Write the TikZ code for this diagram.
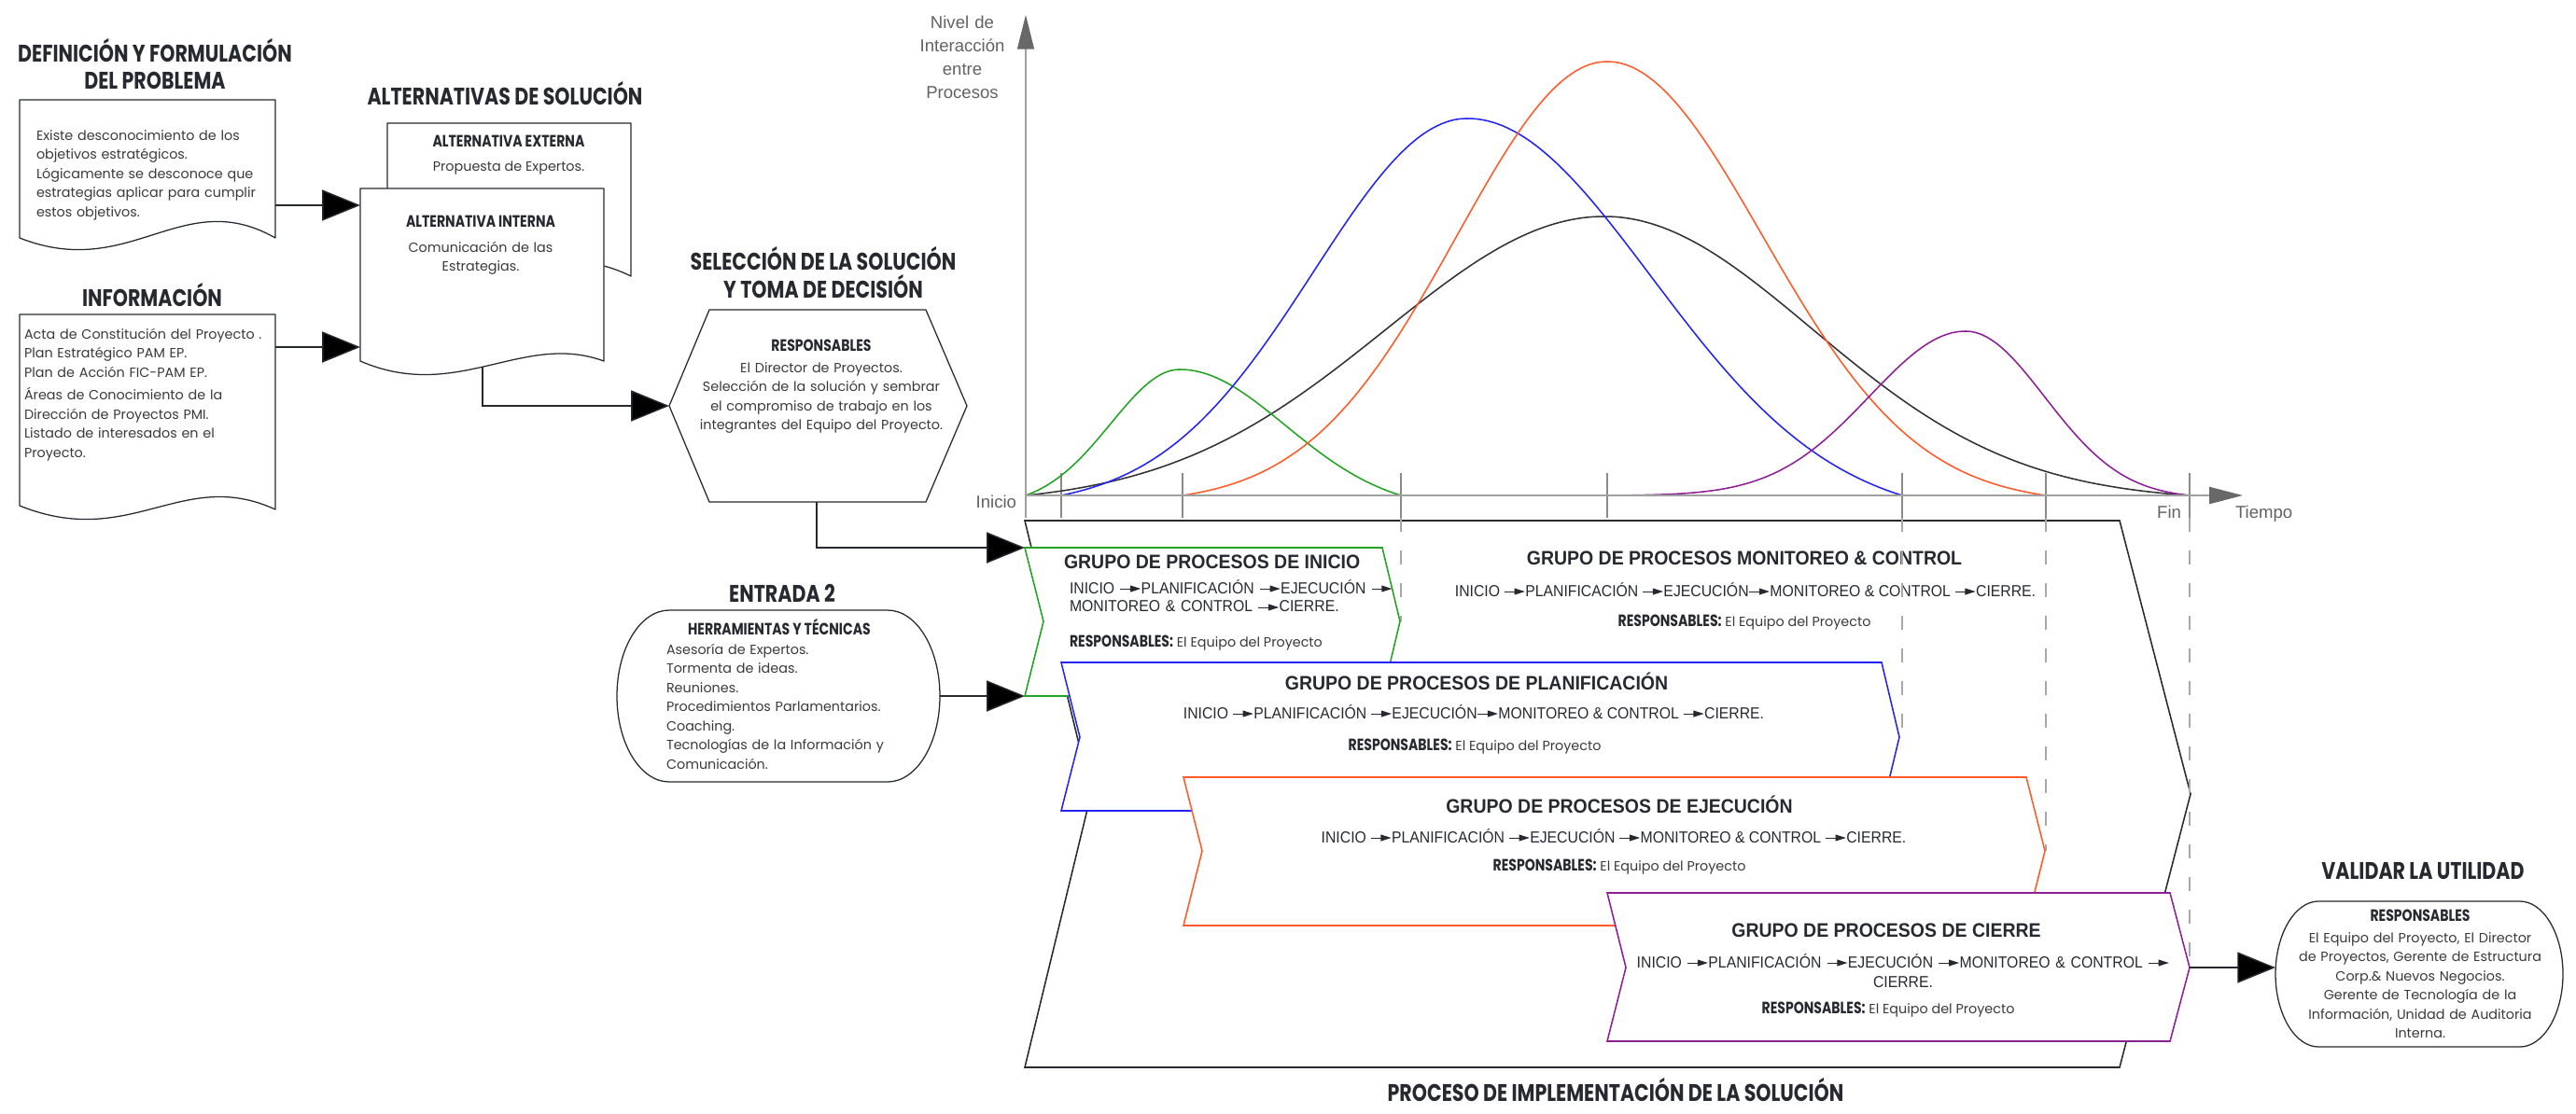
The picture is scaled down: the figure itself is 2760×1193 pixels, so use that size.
\documentclass[tikz,border=0pt]{standalone}
\usepackage{fontspec}
\setmainfont{Poppins}
\newfontfamily\headfont{Poppins}[FakeStretch=0.8]
\newfontfamily\grpfamily{Liberation Sans}[FakeStretch=0.93]
\newfontfamily\seqfamily{Liberation Sans}[FakeStretch=0.92]
\newfontfamily\narrowfont{Liberation Sans}
\usetikzlibrary{arrows.meta}

\definecolor{ink}{HTML}{262A30}
\definecolor{bodytxt}{HTML}{3A3A3A}
\definecolor{axisgrey}{HTML}{A0A0A0}
\definecolor{headgrey}{HTML}{686868}
\definecolor{tickgrey}{HTML}{8A8A8A}
\definecolor{dashgrey}{HTML}{A8A8A8}
\definecolor{labgrey}{HTML}{626262}
\definecolor{cgreen}{HTML}{22A322}
\definecolor{cblue}{HTML}{2323F5}
\definecolor{corange}{HTML}{FF5A28}
\definecolor{cpurple}{HTML}{8E1F96}
\definecolor{cblack}{HTML}{333333}

% small arrow used inside the process sequences
\newcommand\flecha{\tikz[baseline=-0.55ex]\draw[line width=0.7pt,-{Triangle[length=0.65em,width=0.4em]}](0,0)--(1.27em,0);}
\newcommand\titfont{\headfont\bfseries\fontsize{18.3}{20.3}\selectfont}
\newcommand\labfont{\headfont\bfseries\fontsize{12.5}{14}\selectfont}
\newcommand\txtfont{\fontsize{10.2}{14.6}\selectfont}
\newcommand\grpfont{\grpfamily\bfseries\fontsize{14.9}{16}\selectfont}
\newcommand\seqfont{\seqfamily\fontsize{12.2}{15}\selectfont}
\newcommand\axfont{\narrowfont\fontsize{13.2}{17.8}\selectfont}
\newcommand\resp{{\labfont RESPONSABLES:} {\txtfont\color{bodytxt}El Equipo del Proyecto}}

\begin{document}
\begin{tikzpicture}[x=0.025cm,y=-0.025cm,
  every node/.style={inner sep=0pt, outer sep=0pt},
  sectitle/.style={font=\titfont, text=ink},
  body/.style={font=\txtfont, text=bodytxt},
  lab/.style={font=\labfont, text=ink},
  doc/.style={draw=ink, fill=white, line width=0.9pt, line join=round},
  conn/.style={draw=ink, line width=1pt, -{Triangle[length=29pt,width=23.5pt]}},
  grp/.style={fill=white, line width=1.1pt},
  gtitle/.style={font=\grpfont, text=ink},
  seq/.style={font=\seqfont, text=ink},
  curve/.style={line width=1.1pt},
  axtick/.style={draw=tickgrey, line width=0.8pt},
  guide/.style={draw=dashgrey, line width=0.9pt, dash pattern=on 10.7pt off 14.2pt},
  axl/.style={font=\axfont, text=labgrey},
]
\useasboundingbox (0,0) rectangle (2760,1193);
\fill[white] (0,0) rectangle (2760,1193);

% ---------- section titles ----------
\node[sectitle, anchor=base] (t-def1) at (166,66) {DEFINICIÓN Y FORMULACIÓN};
\node[sectitle, anchor=base] (t-def2) at (166,95) {DEL PROBLEMA};
\node[sectitle, anchor=base] (t-alt) at (541,112) {ALTERNATIVAS DE SOLUCIÓN};
\node[sectitle, anchor=base] (t-inf) at (163,328) {INFORMACIÓN};
\node[sectitle, anchor=base] (t-sel1) at (882,289) {SELECCIÓN DE LA SOLUCIÓN};
\node[sectitle, anchor=base] (t-sel2) at (882,319) {Y TOMA DE DECISIÓN};
\node[sectitle, anchor=base] (t-ent) at (838,645) {ENTRADA 2};
\node[sectitle, anchor=base] (t-val) at (2596,942) {VALIDAR LA UTILIDAD};
\node[sectitle, anchor=base] (t-imp) at (1731,1180) {PROCESO DE IMPLEMENTACIÓN DE LA SOLUCIÓN};

% ---------- documents ----------
\draw[doc] (21,107) -- (295,107) -- (295,255) .. controls (195,198) and (140,302) .. (21,255) -- cycle;
\node[body, anchor=base west, align=left, text width=7cm] (b1txt) at (39,150)
  {Existe desconocimiento de los\\objetivos estratégicos.\\Lógicamente se desconoce que\\estrategias aplicar para cumplir\\estos objetivos.};
\coordinate (b1out) at (295,220);

\draw[doc] (21,337) -- (295,337) -- (295,546) .. controls (195,500) and (140,590) .. (21,542) -- cycle;
\node[body, anchor=base west, align=left, text width=7.5cm] (b2txt) at (26,363)
  {Acta de Constitución del Proyecto .\\Plan Estratégico PAM EP.\\Plan de Acción FIC-PAM EP.\\[3pt]Áreas de Conocimiento de la\\Dirección de Proyectos PMI.\\Listado de interesados en el\\Proyecto.};
\coordinate (b2out) at (295,372);

% alternatives
\draw[doc] (415,132) -- (676,132) -- (676,296) .. controls (576,246) and (521,344) .. (415,294) -- cycle;
\node[lab, anchor=base] (aext) at (545,157) {ALTERNATIVA EXTERNA};
\node[body, anchor=base] (aexttxt) at (545,183) {Propuesta de Expertos.};

\draw[doc] (386,202) -- (647,202) -- (647,387) .. controls (560,355) and (490,432) .. (386,387) -- cycle;
\node[lab, anchor=base] (aint) at (515,243) {ALTERNATIVA INTERNA};
\node[body, anchor=base, align=center, text width=6cm] (ainttxt) at (515,270) {Comunicación de las\\Estrategias.};
\coordinate (ai-in1) at (386,220);
\coordinate (ai-in2) at (386,372);
\coordinate (ai-out) at (517,393);

% decision hexagon
\draw[doc] (717,435) -- (760,332) -- (992,332) -- (1036,435) -- (992,538) -- (760,538) -- cycle;
\node[lab, anchor=base] (hexlab) at (880,376) {RESPONSABLES};
\node[body, anchor=base, align=center, text width=8cm] (hextxt) at (880,399)
  {El Director de Proyectos.\\Selección de la solución y sembrar\\el compromiso de trabajo en los\\integrantes del Equipo del Proyecto.};
\coordinate (hex-in) at (717,435);
\coordinate (hex-out) at (875,538);

% tools and techniques
\draw[doc] (717,654) -- (951,654) .. controls (982,654) and (1007,695) .. (1007,746)
  .. controls (1007,797) and (982,838) .. (951,838) -- (717,838)
  .. controls (686,838) and (661,797) .. (661,746) .. controls (661,695) and (686,654) .. (717,654) -- cycle;
\node[lab, anchor=base] (herr) at (835,680) {HERRAMIENTAS Y TÉCNICAS};
\node[body, anchor=base west, align=left, text width=7cm] (herrtxt) at (714,701)
  {Asesoría de Expertos.\\Tormenta de ideas.\\Reuniones.\\Procedimientos Parlamentarios.\\Coaching.\\Tecnologías de la Información y\\Comunicación.};
\coordinate (ent-out) at (1007,746);

% validation
\draw[doc] (2484,966) -- (2700,966) .. controls (2725,966) and (2746,1001) .. (2746,1044)
  .. controls (2746,1087) and (2725,1122) .. (2700,1122) -- (2484,1122)
  .. controls (2459,1122) and (2438,1087) .. (2438,1044) .. controls (2438,1001) and (2459,966) .. (2484,966) -- cycle;
\node[lab, anchor=base] (vlab) at (2593,987) {RESPONSABLES};
\node[body, anchor=base, align=center, text width=8cm] (vtxt) at (2593,1010)
  {El Equipo del Proyecto, El Director\\de Proyectos, Gerente de Estructura\\Corp.\& Nuevos Negocios.\\Gerente de Tecnología de la\\Información, Unidad de Auditoria\\Interna.};
\coordinate (val-in) at (2438,1037);

% ---------- implementation block ----------
\draw[fill=white, draw=ink, line width=1.1pt] (1098,558) -- (2271,558) -- (2347,851) -- (2271,1144) -- (1098,1144) -- (1169,851) -- cycle;
\node[gtitle, anchor=base] (gmc-t) at (1869,605) {GRUPO DE PROCESOS MONITOREO \& CONTROL};
\node[seq, anchor=base] (gmc-s) at (1870,639) {INICIO \flecha PLANIFICACIÓN \flecha EJECUCIÓN\flecha MONITOREO \& CONTROL \flecha CIERRE.};
\node[anchor=base, text=ink] (gmc-r) at (1869,671) {\resp};

% guides from the time axis
\draw[guide] (1501,555) -- (1501,666);
\draw[guide] (2038,555) -- (2038,790);
\draw[guide] (2192,555) -- (2192,912);
\draw[guide] (2346,555) -- (2346,1037);

% initiating
\draw[grp, draw=cgreen] (1098,587) -- (1481,587) -- (1500,666) -- (1481,746) -- (1098,746) -- (1118,666) -- cycle;
\node[gtitle, anchor=base west] (gin-t) at (1140,609) {GRUPO DE PROCESOS DE INICIO};
\node[seq, anchor=base west, align=left, text width=9cm, font=\seqfamily\fontsize{12.2}{14.2}\selectfont] (gin-s) at (1146,636)
  {INICIO \flecha PLANIFICACIÓN \flecha EJECUCIÓN \flecha\\MONITOREO \& CONTROL \flecha CIERRE.};
\node[anchor=base west, text=ink] (gin-r) at (1146,693) {\resp};
\coordinate (gin-a) at (1098,587);
\coordinate (gin-b) at (1098,746);

% planning
\draw[grp, draw=cblue] (1137,710) -- (2016,710) -- (2035,790) -- (2016,869) -- (1137,869) -- (1157,790) -- cycle;
\node[gtitle, anchor=base] (gpl-t) at (1582,739) {GRUPO DE PROCESOS DE PLANIFICACIÓN};
\node[seq, anchor=base] (gpl-s) at (1579,770) {INICIO \flecha PLANIFICACIÓN \flecha EJECUCIÓN\flecha MONITOREO \& CONTROL \flecha CIERRE.};
\node[anchor=base, text=ink] (gpl-r) at (1580,804) {\resp};

% executing
\draw[grp, draw=corange] (1268,833) -- (2171,833) -- (2191,912) -- (2171,992) -- (1268,992) -- (1288,912) -- cycle;
\node[gtitle, anchor=base] (gej-t) at (1735,871) {GRUPO DE PROCESOS DE EJECUCIÓN};
\node[seq, anchor=base] (gej-s) at (1729,903) {INICIO \flecha PLANIFICACIÓN \flecha EJECUCIÓN \flecha MONITOREO \& CONTROL \flecha CIERRE.};
\node[anchor=base, text=ink] (gej-r) at (1735,933) {\resp};

% closing
\draw[grp, draw=cpurple] (1722,957) -- (2325,957) -- (2346,1037) -- (2325,1116) -- (1722,1116) -- (1742,1037) -- cycle;
\node[gtitle, anchor=base] (gci-t) at (2021,1004) {GRUPO DE PROCESOS DE CIERRE};
\node[seq, anchor=base, align=center, text width=16cm] (gci-s) at (2039,1037)
  {INICIO \flecha PLANIFICACIÓN \flecha EJECUCIÓN \flecha MONITOREO \& CONTROL \flecha\\CIERRE.};
\node[anchor=base, text=ink] (gci-r) at (2023,1086) {\resp};
\coordinate (gci-out) at (2346,1037);

% ---------- connectors ----------
\draw[conn] (b1out) -- (ai-in1);
\draw[conn] (b2out) -- (ai-in2);
\draw[conn] (ai-out) |- (hex-in);
\draw[conn] (hex-out) |- (gin-a);
\draw[conn] (ent-out) -- (gin-b);
\draw[conn] (gci-out) -- (val-in);

% ---------- interaction chart ----------
\coordinate (O) at (1099,531);
\foreach \t in {1137,1267,1501,1722,2038,2192,2346}
  \draw[axtick] (\t,507) -- (\t,555);

\draw[curve, cblack] plot[domain=1099:1719, samples=50, smooth] (\x,{531-299*(exp(-3.5*((\x-1719)/620)*((\x-1719)/620))-exp(-3.5))/(1-exp(-3.5))})
  -- plot[domain=1719:2346, samples=50, smooth] (\x,{531-299*(exp(-4*((\x-1719)/627)*((\x-1719)/627))-exp(-4))/(1-exp(-4))});
\draw[curve, cgreen] plot[domain=1099:1264, samples=30, smooth] (\x,{531-135*(exp(-2.5*((\x-1264)/165)*((\x-1264)/165))-exp(-2.5))/(1-exp(-2.5))})
  -- plot[domain=1264:1501, samples=40, smooth] (\x,{531-135*(exp(-2.2*((\x-1264)/237)*((\x-1264)/237))-exp(-2.2))/(1-exp(-2.2))});
\draw[curve, cblue] plot[domain=1137:1572, samples=50, smooth] (\x,{531-404*(exp(-3.5*((\x-1572)/435)*((\x-1572)/435))-exp(-3.5))/(1-exp(-3.5))})
  -- plot[domain=1572:2038, samples=50, smooth] (\x,{531-404*(exp(-2.8*((\x-1572)/466)*((\x-1572)/466))-exp(-2.8))/(1-exp(-2.8))});
\draw[curve, corange] plot[domain=1267:1722, samples=50, smooth] (\x,{531-465*(exp(-4*((\x-1722)/455)*((\x-1722)/455))-exp(-4))/(1-exp(-4))})
  -- plot[domain=1722:2192, samples=50, smooth] (\x,{531-465*(exp(-4*((\x-1722)/470)*((\x-1722)/470))-exp(-4))/(1-exp(-4))});
\draw[curve, cpurple] plot[domain=1722:2106, samples=50, smooth] (\x,{531-176*(exp(-7*((\x-2106)/384)*((\x-2106)/384))-exp(-7))/(1-exp(-7))})
  -- plot[domain=2106:2346, samples=40, smooth] (\x,{531-176*(exp(-4*((\x-2106)/240)*((\x-2106)/240))-exp(-4))/(1-exp(-4))});

\draw[draw=axisgrey, line width=0.9pt, -{Triangle[length=26pt,width=12.8pt,color=headgrey]}] (1099,555) -- (1099,16);
\draw[draw=axisgrey, line width=1.5pt, -{Triangle[length=25.5pt,width=12.8pt,color=headgrey]}] (O) -- (2403,531);

\node[axl, anchor=base, align=center, text width=3cm] (ylab) at (1031,30) {Nivel de\\Interacción\\entre\\Procesos};
\node[axl, anchor=base east] (l-ini) at (1089,544) {Inicio};
\node[axl, anchor=base east] (l-fin) at (2337,555) {Fin};
\node[axl, anchor=base west] (l-tie) at (2395,555) {Tiempo};
\end{tikzpicture}
\end{document}
